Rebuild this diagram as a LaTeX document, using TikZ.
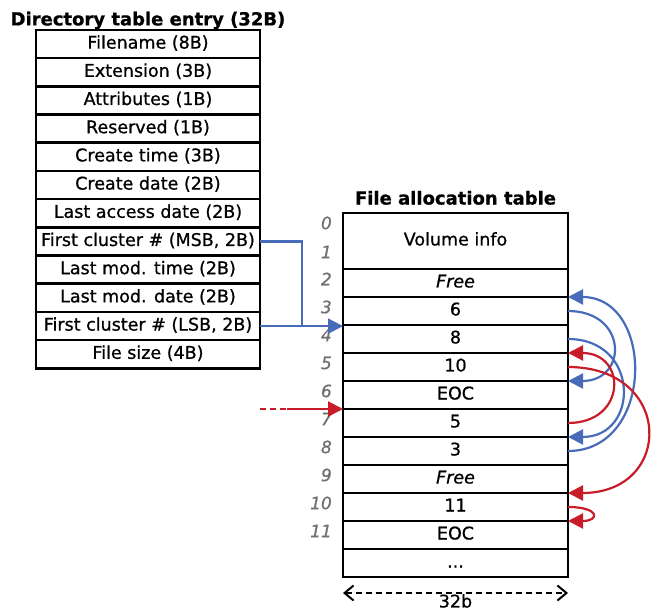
\documentclass[tikz,border=0pt]{standalone}
\usepackage{fontspec}
\setmainfont{DejaVu Sans}[RawFeature={embolden=0.8}]
\usetikzlibrary{positioning, arrows.meta}
\definecolor{ptrblue}{RGB}{72,108,186}
\definecolor{ptrred}{RGB}{200,28,40}
\definecolor{idxgray}{RGB}{112,112,112}
\tikzset{
    field/.style={draw, line width=2.6pt, outer sep=0pt, inner sep=0pt,
        minimum width=224pt, minimum height=28.2pt, text height=12.5pt, text depth=3.5pt,
        font=\fontsize{17.5}{20}\selectfont},
    cell/.style={field, minimum width=225pt, minimum height=28pt},
    caption/.style={inner sep=0pt, font=\fontsize{18}{21}\selectfont\bfseries},
    idx/.style={inner sep=0pt, text=idxgray, font=\fontsize{17}{20}\selectfont\itshape},
    wire/.style={line width=2.2pt},
    ptr/.style={wire, -{Triangle[length=15pt, width=15pt]}},
}

\begin{document}
\begin{tikzpicture}[x=1pt, y=-1pt]
    \useasboundingbox (0,0) rectangle (651,612);

    % directory entry
    \node [field] (e_name) at (148,44.1) {Filename (8B)};
    \node [field, below=0pt of e_name] (e_ext) {Extension (3B)};
    \node [field, below=0pt of e_ext] (e_attr) {Attributes (1B)};
    \node [field, below=0pt of e_attr] (e_res) {Reserved (1B)};
    \node [field, below=0pt of e_res] (e_ctime) {Create time (3B)};
    \node [field, below=0pt of e_ctime] (e_cdate) {Create date (2B)};
    \node [field, below=0pt of e_cdate] (e_adate) {Last access date (2B)};
    \node [field, below=0pt of e_adate] (e_msb) {First cluster \# (MSB, 2B)};
    \node [field, below=0pt of e_msb] (e_mtime) {Last mod. time (2B)};
    \node [field, below=0pt of e_mtime] (e_mdate) {Last mod. date (2B)};
    \node [field, below=0pt of e_mdate] (e_lsb) {First cluster \# (LSB, 2B)};
    \node [field, below=0pt of e_lsb] (e_size) {File size (4B)};
    \node [caption, above=0.5pt of e_name] (t_dir) {Directory table entry (32B)};

    % allocation table
    \node [cell, minimum height=56pt] (f0) at (455.5,241) {Volume info};
    \node [cell, below=0pt of f0] (f2) {\itshape Free};
    \node [cell, below=0pt of f2] (f3) {6};
    \node [cell, below=0pt of f3] (f4) {8};
    \node [cell, below=0pt of f4] (f5) {10};
    \node [cell, below=0pt of f5] (f6) {EOC};
    \node [cell, below=0pt of f6] (f7) {5};
    \node [cell, below=0pt of f7] (f8) {3};
    \node [cell, below=0pt of f8] (f9) {\itshape Free};
    \node [cell, below=0pt of f9] (f10) {11};
    \node [cell, below=0pt of f10] (f11) {EOC};
    \node [cell, below=0pt of f11] (f12) {...};
    \node [caption, above=8pt of f0] (t_fat) {File allocation table};

    % cluster numbers
    \node [idx, left=11pt of f0.west, yshift=18pt] {0};
    \node [idx, left=11pt of f0.west, yshift=-11pt] {1};
    \node [idx, left=11pt of f2.west, yshift=4pt] {2};
    \node [idx, left=11pt of f3.west, yshift=4pt] {3};
    \node [idx, left=11pt of f4.west, yshift=4pt] {4};
    \node [idx, left=11pt of f5.west, yshift=4pt] {5};
    \node [idx, left=11pt of f6.west, yshift=4pt] {6};
    \node [idx, left=11pt of f7.west, yshift=4pt] {7};
    \node [idx, left=11pt of f8.west, yshift=4pt] {8};
    \node [idx, left=11pt of f9.west, yshift=4pt] {9};
    \node [idx, left=11pt of f10.west, yshift=4pt] {10};
    \node [idx, left=11pt of f11.west, yshift=4pt] {11};

    % first cluster pointer
    \coordinate [right=42pt of e_lsb.east] (join);
    \draw [wire, ptrblue] (e_msb.east) -| (join);
    \draw [ptr, ptrblue] (e_lsb.east) -- (e_lsb.east -| f4.west);

    % second chain entry
    \coordinate [left=83pt of f7.north west] (tail);
    \coordinate [left=56pt of f7.north west] (tail_end);
    \draw [wire, ptrred, dash pattern=on 6pt off 4pt] (tail) -- (tail_end);
    \draw [ptr, ptrred] (tail_end) -- (f7.north west);

    % blue chain
    \draw [ptr, ptrblue] (f8.east) .. controls +(87,0) and +(87,0) .. (f3.north east);
    \draw [ptr, ptrblue] (f3.east) .. controls +(60,0) and +(60,0) .. (f6.north east);
    \draw [ptr, ptrblue] (f4.east) .. controls +(72,0) and +(72,0) .. (f8.north east);

    % red chain
    \draw [ptr, ptrred] (f7.east) .. controls +(59,0) and +(59,0) .. (f5.north east);
    \draw [ptr, ptrred] (f5.east) .. controls +(106,0) and +(106,0) .. (f10.north east);
    \draw [ptr, ptrred] (f10.east) .. controls +(32,0) and +(32,0) .. (f11.north east);

    % entry width
    \coordinate [below=16pt of f12.south west] (w_left);
    \coordinate [below=16pt of f12.south east] (w_right);
    \draw [line width=2pt, dash pattern=on 6pt off 4pt,
        {Straight Barb[length=9pt, width=15pt]}-{Straight Barb[length=9pt, width=15pt]}] (w_left) -- (w_right);
    \node [inner sep=0pt, font=\fontsize{17.5}{20}\selectfont, below=17pt of f12.south] (w_label) {32b};
\end{tikzpicture}
\end{document}
